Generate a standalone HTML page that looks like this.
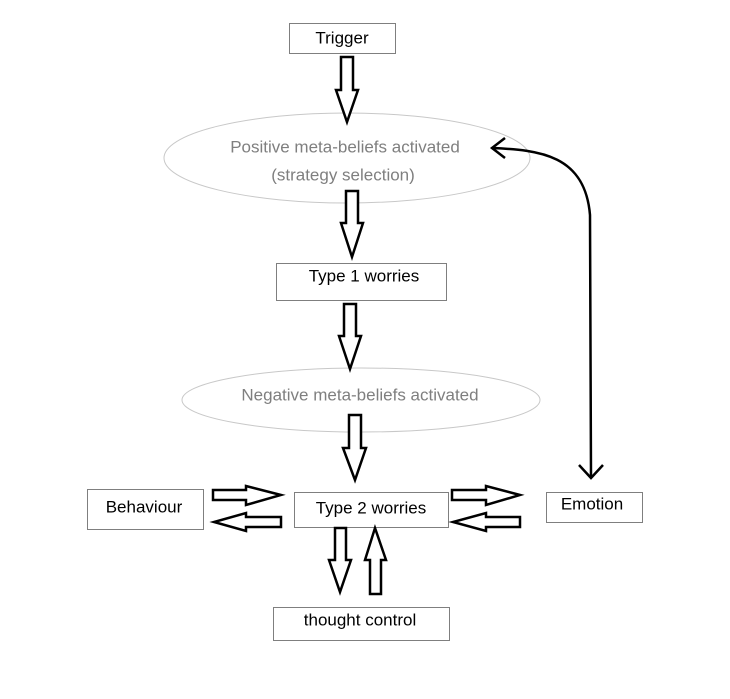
<!DOCTYPE html>
<html><head><style>body{margin:0;background:#fff}svg{display:block}</style></head><body>
<svg width="730" height="699" viewBox="0 0 730 699" xmlns="http://www.w3.org/2000/svg" font-family="Liberation Sans, sans-serif" font-size="17">
<g fill="#fff" stroke="#7f7f7f" stroke-width="1">
<rect x="289.5" y="23.5" width="106" height="30"/>
<rect x="276.5" y="263.5" width="170" height="37"/>
<rect x="294.5" y="492.5" width="154" height="35"/>
<rect x="87.5" y="489.5" width="116" height="40"/>
<rect x="546.5" y="492.5" width="96" height="30"/>
<rect x="273.5" y="607.5" width="176" height="33"/>
</g>
<g fill="none" stroke="#c8c8c8" stroke-width="1">
<ellipse cx="347" cy="158" rx="183" ry="45"/>
<ellipse cx="361" cy="400" rx="179" ry="32"/>
</g>
<g fill="#fff" stroke="#000" stroke-width="2.5" stroke-linejoin="miter">
<polygon points="341,57 353,57 353,90 358,90 347,122 336,90 341,90"/>
<polygon points="346,191 358,191 358,223 363,223 352,257 341,223 346,223"/>
<polygon points="344,304 356,304 356,336 361,336 350,369 339,336 344,336"/>
<polygon points="349,415 361,415 361,448 366,448 355,480 343,448 349,448"/>
<polygon points="213,490 246,490 246,486 281,495 246,505 246,500 213,500"/>
<polygon points="281,517 246,517 246,513 214,522 246,531 246,527 281,527"/>
<polygon points="452,490 486,490 486,486 520,495 486,505 486,500 452,500"/>
<polygon points="520,517 486,517 486,513 453,522 486,531 486,527 520,527"/>
<polygon points="335,528 346,528 346,560 351,560 340,592 329,560 335,560"/>
<polygon points="370,594 381,594 381,560 386,560 375,528 365,560 370,560"/>
</g>
<g fill="none" stroke="#000" stroke-width="2.5">
<path d="M492,148 C540,150 585,155 590,215 L591,478"/>
<path d="M505,138 L492,148 L505,158"/>
<path d="M579,465 L591,478 L603,465"/>
</g>
<g text-anchor="middle" dominant-baseline="central">
<text x="342" y="38">Trigger</text>
<text x="345" y="147" fill="#7f7f7f">Positive meta-beliefs activated</text>
<text x="343" y="175" fill="#7f7f7f">(strategy selection)</text>
<text x="364" y="276">Type 1 worries</text>
<text x="360" y="395" fill="#7f7f7f">Negative meta-beliefs activated</text>
<text x="371" y="508">Type 2 worries</text>
<text x="144" y="507">Behaviour</text>
<text x="592" y="504">Emotion</text>
<text x="360" y="620">thought control</text>
</g>
</svg>
</body></html>
